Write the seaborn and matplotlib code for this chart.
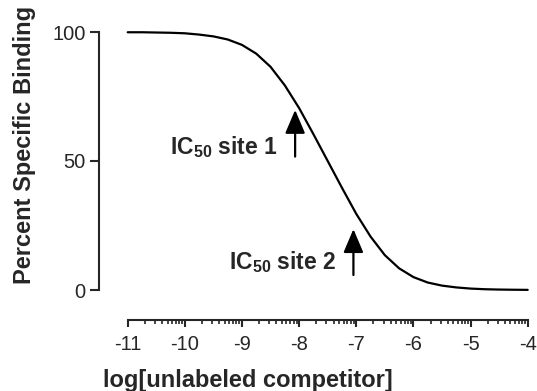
import numpy as np
import matplotlib
matplotlib.use("Agg")
import matplotlib.pyplot as plt
from matplotlib.ticker import FixedLocator
import seaborn as sns

# Curve values (log concentration vs % specific binding)
log_conc = [-11.0, -10.75, -10.5, -10.25, -10.0, -9.75, -9.5, -9.25, -9.0, -8.75,
            -8.5, -8.25, -8.0, -7.75, -7.5, -7.25, -7.0, -6.75, -6.5, -6.25,
            -6.0, -5.75, -5.5, -5.25, -5.0, -4.75, -4.5, -4.25, -4.0]
binding = [99.9, 99.9, 99.8, 99.7, 99.5, 99.0, 98.3, 97.1, 95.0, 91.6,
           86.5, 79.3, 70.5, 60.4, 50.0, 39.6, 29.5, 20.7, 13.5, 8.4,
           5.0, 2.9, 1.7, 1.0, 0.55, 0.3, 0.17, 0.1, 0.05]

# Annotations: label, arrow x, arrow tip, arrow tail
ic50_labels = ["IC$_{\\mathbf{50}}$ site 1", "IC$_{\\mathbf{50}}$ site 2"]
ic50_x = [-8.07, -7.05]
ic50_tip = [69.8, 23.6]
ic50_tail = [51.7, 5.8]

x_ticks = [-11, -10, -9, -8, -7, -6, -5, -4]
y_ticks = [0, 50, 100]

sns.set_style("ticks")
plt.rcParams["font.family"] = ["Liberation Sans", "DejaVu Sans"]
plt.rcParams["axes.unicode_minus"] = False
plt.rcParams["mathtext.fontset"] = "custom"
plt.rcParams["mathtext.bf"] = "Liberation Sans:bold"
plt.rcParams["mathtext.rm"] = "Liberation Sans:bold"

fig = plt.figure(figsize=(5.37, 3.91), dpi=100)
ax = fig.add_axes([127.7 / 537, 101 / 391, 400 / 537, 258 / 391])

sns.lineplot(x=log_conc, y=binding, ax=ax, color="black", linewidth=1.6)
for line in ax.get_lines():
    line.set_clip_on(False)

ax.set_xlim(-11, -4)
ax.set_ylim(0, 100)

# detached spines like the original
for side in ["top", "right"]:
    ax.spines[side].set_visible(False)
ax.spines["left"].set_position(("outward", 20.7))
ax.spines["bottom"].set_position(("outward", 21.6))
ax.spines["left"].set_linewidth(1.5)
ax.spines["bottom"].set_linewidth(1.5)

ax.set_xticks(x_ticks)
ax.set_xticklabels([str(t) for t in x_ticks])
minor = [d + np.log10(k) for d in x_ticks[:-1] for k in range(2, 10)]
ax.xaxis.set_minor_locator(FixedLocator(minor))
ax.set_yticks(y_ticks)
ax.tick_params(axis="x", which="major", length=5, width=1.5, labelsize=14.5, pad=6)
ax.tick_params(axis="x", which="minor", length=3, width=1.2)
ax.tick_params(axis="y", which="major", length=6.5, width=1.5, labelsize=14.5, pad=3)

ax.set_xlabel("log[unlabeled competitor]", fontsize=17, fontweight="bold")
ax.set_ylabel("Percent Specific Binding", fontsize=17, fontweight="bold")
ax.xaxis.set_label_coords(0.30, -0.35)
ax.yaxis.set_label_coords(-0.259, 0.562)
ax.xaxis.label.set_va("center")
ax.yaxis.label.set_va("center")

text_x = [-8.37, -7.34]
text_y = [55.5, 11.0]
for lab, x, tip, tail, tx, ty in zip(ic50_labels, ic50_x, ic50_tip, ic50_tail, text_x, text_y):
    ax.annotate("", xy=(x, tip), xytext=(x, tail),
                arrowprops=dict(arrowstyle="-|>,head_length=0.4,head_width=0.17",
                                mutation_scale=36, lw=1.6, color="black",
                                shrinkA=0, shrinkB=0))
    ax.text(tx, ty, lab, ha="right", va="center", fontsize=16.5, fontweight="bold")

fig.savefig("out.png", dpi=100)
